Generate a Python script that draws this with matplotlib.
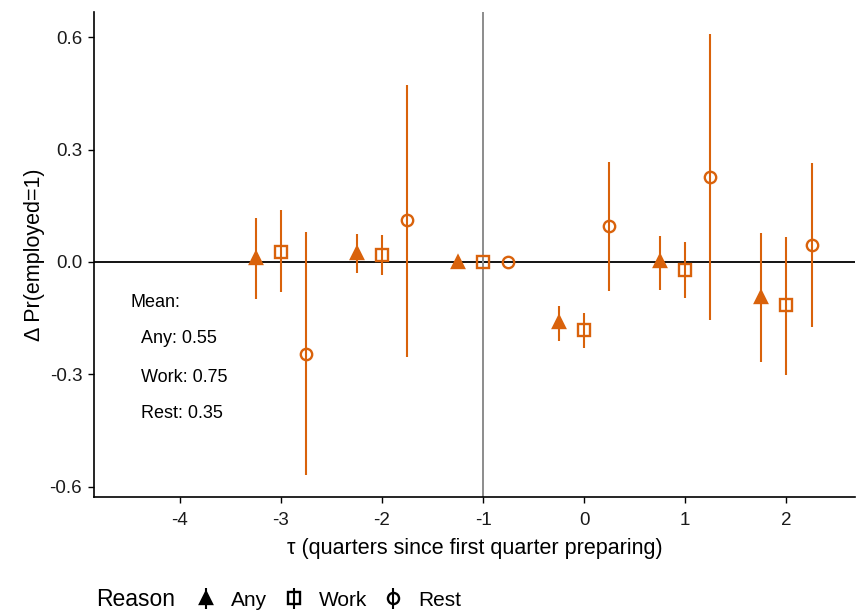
import numpy as np
import matplotlib.pyplot as plt

plt.rcParams['font.family'] = ['Liberation Sans', 'DejaVu Sans']

# event time (quarters since first quarter preparing)
tau = [-3, -2, -1, 0, 1, 2]

# point estimates and 95% intervals by reason
any_est = [0.011, 0.024, 0.0, -0.160, 0.003, -0.093]
any_lo = [-0.099, -0.029, 0.0, -0.210, -0.075, -0.267]
any_hi = [0.117, 0.075, 0.0, -0.117, 0.069, 0.077]

work_est = [0.027, 0.019, 0.0, -0.181, -0.021, -0.115]
work_lo = [-0.080, -0.035, 0.0, -0.229, -0.096, -0.301]
work_hi = [0.139, 0.072, 0.0, -0.136, 0.053, 0.067]

rest_est = [-0.245, 0.112, 0.0, 0.096, 0.227, 0.045]
rest_lo = [-0.568, -0.253, 0.0, -0.077, -0.155, -0.173]
rest_hi = [0.080, 0.472, 0.0, 0.267, 0.608, 0.264]

reasons = ['Any', 'Work', 'Rest']
offsets = [-0.25, 0.0, 0.25]
markers = ['^', 's', 'o']

means = {'Any': 0.55, 'Work': 0.75, 'Rest': 0.35}

orange = '#D9620B'

fig = plt.figure(figsize=(8.56, 6.14), dpi=100)
ax = fig.add_axes([94 / 856, 1 - 497 / 614, (855 - 94) / 856, (497 - 12) / 614])

ax.axhline(0, color='black', lw=1.3, zorder=1)
ax.axvline(-1, color='#8c8c8c', lw=1.4, zorder=1)

series = [(any_est, any_lo, any_hi), (work_est, work_lo, work_hi), (rest_est, rest_lo, rest_hi)]
for (est, lo, hi), off, m in zip(series, offsets, markers):
    x = np.array(tau) + off
    est = np.array(est)
    yerr = [est - np.array(lo), np.array(hi) - est]
    filled = m == '^'
    # hollow shapes let the interval line show through, like ggplot pointrange
    ax.errorbar(x, est, yerr=yerr, fmt=m, color=orange, ecolor=orange, elinewidth=1.5,
                markersize=8.5 if filled else 8.2,
                markerfacecolor=orange if filled else 'none',
                markeredgecolor=orange, markeredgewidth=1.7, capsize=0, zorder=3)

# mean annotation
ax.text(-4.49, -0.107, 'Mean:', fontsize=13, ha='left', va='center')
ypos = [-0.205, -0.307, -0.405]
for r, yy in zip(reasons, ypos):
    ax.text(-4.38, yy, f'{r}: {means[r]:.2f}', fontsize=13, ha='left', va='center')

ax.set_xlim(-4.85, 2.68)
ax.set_ylim(-0.627, 0.667)
ax.set_xticks([-4, -3, -2, -1, 0, 1, 2])
ax.set_yticks([-0.6, -0.3, 0.0, 0.3, 0.6])
ax.set_xticklabels(['-4', '-3', '-2', '-1', '0', '1', '2'])
ax.set_yticklabels(['-0.6', '-0.3', '0.0', '0.3', '0.6'])
ax.tick_params(labelsize=13.5, length=4.5, width=1, color='black', labelcolor='#1a1a1a')
ax.tick_params(axis='x', pad=6)
ax.tick_params(axis='y', pad=4)
for s in ['top', 'right']:
    ax.spines[s].set_visible(False)
for s in ['left', 'bottom']:
    ax.spines[s].set_linewidth(1.2)

ax.set_xlabel('τ (quarters since first quarter preparing)', fontsize=15.5, labelpad=7)
ax.set_ylabel('Δ Pr(employed=1)', fontsize=15.5, labelpad=3)

# legend along the bottom
handles = []
for r, m in zip(reasons, markers):
    h = ax.errorbar([np.nan], [np.nan], yerr=[[1], [1]], fmt=m, color='black',
                    markersize=8, markerfacecolor='black' if m == '^' else 'none',
                    markeredgewidth=1.7, elinewidth=1.5, label=r)
    handles.append(h)
fig.text(96 / 856, 1 - 600 / 614, 'Reason', fontsize=16.5, ha='left', va='center')
fig.legend(handles=handles, labels=reasons, loc='center left',
           bbox_to_anchor=(196 / 856, 1 - 600 / 614), ncol=3, frameon=False,
           fontsize=15, handlelength=1.0, handletextpad=0.7, columnspacing=0.75,
           borderpad=0, borderaxespad=0)

fig.savefig('out.png', dpi=100)
